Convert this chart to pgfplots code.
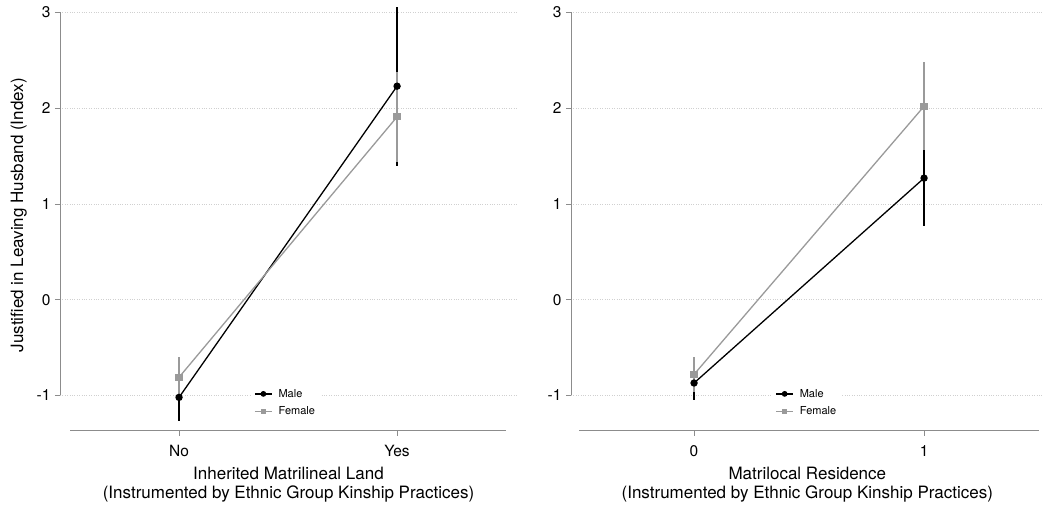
\documentclass[border=0pt]{standalone}
\usepackage{fontspec}
\setmainfont{TeX Gyre Heros}
\usepackage{pgfplots}
\pgfplotsset{compat=1.18}
\definecolor{fem}{HTML}{9A9A9A}
\definecolor{axgray}{HTML}{8C8C8C}
\definecolor{gridc}{HTML}{D0D0D0}
\begin{document}
\begin{tikzpicture}
\path[use as bounding box] (0pt,0pt) rectangle (1044pt,504pt);
\pgfplotsset{
 panel/.style={
  scale only axis,
  axis line style={draw=none},
  ymin=-1.366, ymax=3.13,
  ytick={-1,0,1,2,3}, yticklabels={-1,0,1,2,3},
  xtick={0,1},
  tick pos=left, tick align=outside,
  major tick length=5pt,
  tick style={axgray, line width=0.8pt},
  ymajorgrids, grid style={gridc, dotted, line width=0.9pt},
  ticklabel style={font=\fontsize{15.5}{15.5}\selectfont},
  xticklabel style={yshift=-6pt},
  yticklabel style={xshift=-1pt},
  xlabel style={align=center, font=\fontsize{17}{19}\selectfont, yshift=-4pt},
  ylabel style={font=\fontsize{17}{19}\selectfont, yshift=3pt},
  legend style={draw=none, fill=white, font=\fontsize{11}{13}\selectfont, row sep=4pt, column sep=4pt},
  legend image code/.code={\draw[mark repeat=2,mark phase=2,#1,mark size=2.2pt] plot coordinates {(0cm,0cm)(0.3cm,0cm)(0.6cm,0cm)};},
  legend cell align=left,
  clip=false,
 },
 male/.style={black, line width=1.3pt, mark=*, mark size=3pt,
   error bars/.cd, y dir=both, y explicit, error mark=none,
   error bar style={black, line width=1.6pt}},
 female/.style={fem, line width=1.3pt, mark=square*, mark size=3pt,
   error bars/.cd, y dir=both, y explicit, error mark=none,
   error bar style={fem, line width=1.6pt}},
}
% ---------- Left panel ----------
\begin{axis}[panel,
  at={(60pt,73.5pt)}, anchor=south west,
  width=457pt, height=430.5pt,
  xmin=-0.546, xmax=1.55,
  xticklabels={No,Yes},
  xlabel={Inherited Matrilineal Land\\(Instrumented by Ethnic Group Kinship Practices)},
  ylabel={Justified in Leaving Husband (Index)},
  legend style={at={(axis cs:0.33,-0.89)}, anchor=north west},
]
\draw[axgray, line width=0.8pt] (axis cs:-0.5,-1.366) -- (axis cs:1.5,-1.366);
\draw[axgray, line width=0.8pt] (axis cs:-0.546,-1) -- (axis cs:-0.546,3);
\addplot[male] coordinates {(0,-1.02) +- (0,0.25) (1,2.23) +- (0,0.83)};
\addlegendentry{Male}
\addplot[female] coordinates {(0,-0.81) +- (0,0.21) (1,1.91) +- (0,0.47)};
\addlegendentry{Female}
\end{axis}
% ---------- Right panel ----------
\begin{axis}[panel,
  at={(571pt,73.5pt)}, anchor=south west,
  width=472.65pt, height=430.5pt,
  xmin=-0.535, xmax=1.52,
  xticklabels={0,1},
  xlabel={Matrilocal Residence\\(Instrumented by Ethnic Group Kinship Practices)},
  legend style={at={(axis cs:0.34,-0.89)}, anchor=north west},
]
\draw[axgray, line width=0.8pt] (axis cs:-0.5,-1.366) -- (axis cs:1.5,-1.366);
\draw[axgray, line width=0.8pt] (axis cs:-0.535,-1) -- (axis cs:-0.535,3);
\addplot[male] coordinates {(0,-0.87) +- (0,0.18) (1,1.27) +- (0,0.50)};
\addlegendentry{Male}
\addplot[female] coordinates {(0,-0.78) +- (0,0.18) (1,2.02) +- (0,0.46)};
\addlegendentry{Female}
\end{axis}
\end{tikzpicture}
\end{document}
